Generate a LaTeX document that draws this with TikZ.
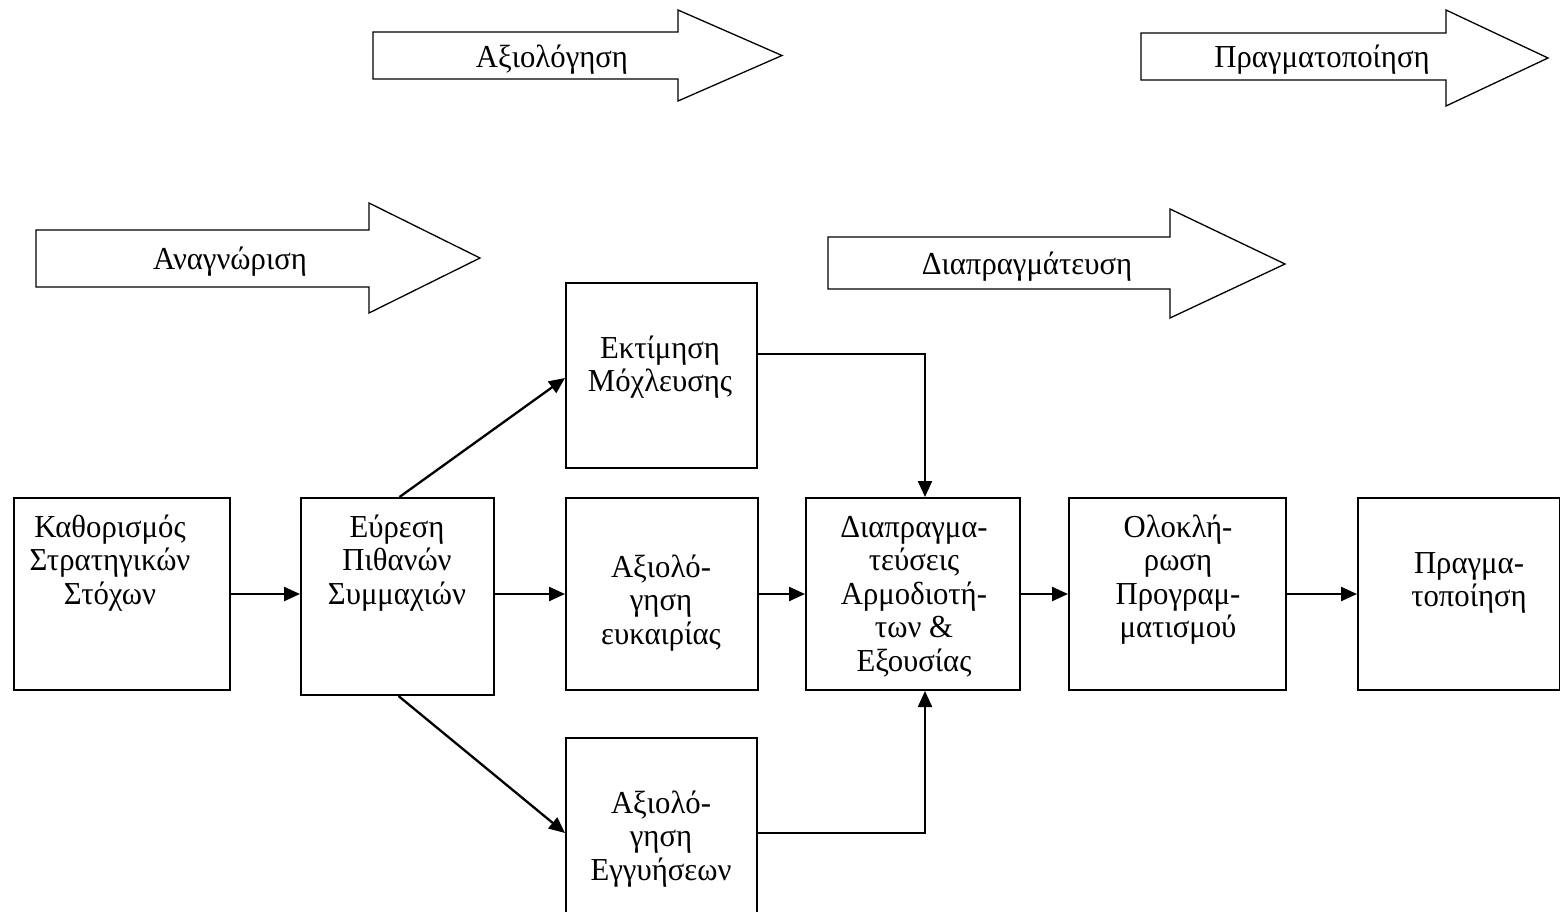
\documentclass[tikz,border=0pt]{standalone}
\usepackage{fontspec}
\setmainfont{Liberation Serif}[FakeStretch=0.96]
\usetikzlibrary{arrows.meta}
\newcommand{\ltext}[1]{\parbox[t]{10cm}{\centering #1}}
\begin{document}
\begin{tikzpicture}[x=1pt,y=-1pt,
  font=\fontsize{32}{33.5}\selectfont,
  box/.style={draw, line width=2pt, inner sep=0pt, anchor=north west},
  txt/.style={anchor=base, inner sep=0pt},
  conn/.style={line width=2.3pt, -{Triangle[length=16pt,width=14pt]}},
  blockarrow/.style={draw, line width=1.3pt, line join=miter}]
\clip (0,0) rectangle (1560,911);
\fill[white] (0,0) rectangle (1560,911);

% block arrows
\draw[blockarrow] (373,32) -- (678,32) -- (678,10) -- (782,55.5) -- (678,101) -- (678,79) -- (373,79) -- cycle;
\node[txt] (aAx) at (552,67) {\ltext{Αξιολόγηση}};
\draw[blockarrow] (1141,33) -- (1446,33) -- (1446,10) -- (1548,58) -- (1446,106) -- (1446,80) -- (1141,80) -- cycle;
\node[txt] (aPr) at (1322,67) {\ltext{Πραγματοποίηση}};
\draw[blockarrow] (36,230) -- (369,230) -- (369,203) -- (480,258) -- (369,313) -- (369,287) -- (36,287) -- cycle;
\node[txt] (aAn) at (230,269) {\ltext{Αναγνώριση}};
\draw[blockarrow] (828,237) -- (1170,237) -- (1170,209) -- (1285,264) -- (1170,318) -- (1170,289) -- (828,289) -- cycle;
\node[txt] (aDi) at (1027,274) {\ltext{Διαπραγμάτευση}};

% boxes
\node[box, minimum width=216pt, minimum height=192pt] (B1) at (13,497) {};
\node[box, minimum width=193pt, minimum height=197pt] (B2) at (300,497) {};
\node[box, minimum width=191pt, minimum height=185pt] (B3) at (565,282) {};
\node[box, minimum width=192pt, minimum height=192pt] (B4) at (565,497) {};
\node[box, minimum width=191pt, minimum height=178pt] (B5) at (565,737) {};
\node[box, minimum width=214pt, minimum height=192pt] (B6) at (805,497) {};
\node[box, minimum width=217pt, minimum height=192pt] (B7) at (1068,497) {};
\node[box, minimum width=202pt, minimum height=192pt] (B8) at (1357,497) {};

% texts
\node[txt] (t1) at (110,537) {\ltext{Καθορισμός\\Στρατηγικών\\Στόχων}};
\node[txt] (t2) at (397,537) {\ltext{Εύρεση\\Πιθανών\\Συμμαχιών}};
\node[txt] (t3) at (660,358) {\ltext{Εκτίμηση\\Μόχλευσης}};
\node[txt] (t4) at (661,577) {\ltext{Αξιολό-\\γηση\\ευκαιρίας}};
\node[txt] (t5) at (661,813) {\ltext{Αξιολό-\\γηση\\Εγγυήσεων}};
\node[txt] (t6) at (914,537) {\ltext{Διαπραγμα-\\τεύσεις\\Αρμοδιοτή-\\των \&\\Εξουσίας}};
\node[txt] (t7) at (1178,537) {\ltext{Ολοκλή-\\ρωση\\Προγραμ-\\ματισμού}};
\node[txt] (t8) at (1469,573) {\ltext{Πραγμα-\\τοποίηση}};

% connectors
\draw[conn] (B1.east) -- (B2.west |- B1.east);
\draw[conn] (B2.east |- B4.west) -- (B4.west);
\draw[conn] (B4.east) -- (B6.west);
\draw[conn] (B6.east) -- (B7.west);
\draw[conn] (B7.east) -- (B8.west);
\draw[conn] ([xshift=2pt]B2.north) -- (B3.west |- 0,378);
\draw[conn] ([xshift=1pt]B2.south) -- (B5.west |- 0,833);
\draw[conn] (B3.east |- 0,354) -| (B6.north -| 925,0);
\draw[conn] (B5.east |- 0,833) -| (B6.south -| 925,0);
\end{tikzpicture}
\end{document}
